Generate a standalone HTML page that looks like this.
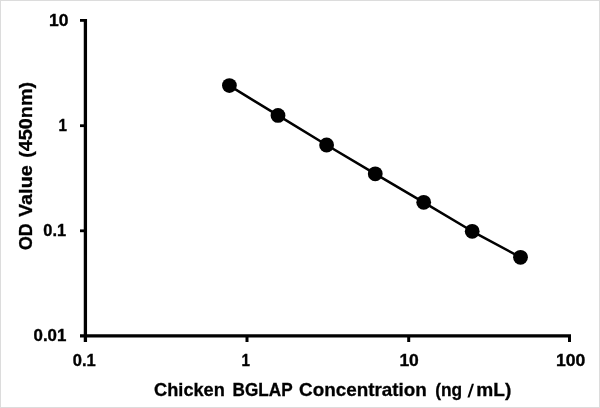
<!DOCTYPE html>
<html>
<head>
<meta charset="utf-8">
<title>Chicken BGLAP ELISA standard curve</title>
<style>
  html, body { margin: 0; padding: 0; background: #ffffff; }
  body { width: 600px; height: 408px; overflow: hidden; font-family: "Liberation Sans", sans-serif; }
  svg { display: block; will-change: transform; opacity: 0.999; }
  text { font-family: "Liberation Sans", sans-serif; font-weight: bold; fill: #000; }
</style>
</head>
<body>
<svg width="600" height="408" viewBox="0 0 600 408">
  <rect x="0" y="0" width="600" height="408" fill="#ffffff"/>
  <!-- outer light border -->
  <rect x="0.5" y="0.5" width="599" height="407" fill="none" stroke="#dcdcdc" stroke-width="1"/>

  <!-- axes -->
  <g stroke="#000" stroke-width="3" fill="none" stroke-linecap="butt">
    <line x1="85.4" y1="19" x2="85.4" y2="342" stroke-width="3.3"/>
    <line x1="80" y1="335.85" x2="571" y2="335.85" stroke-width="3.3"/>
    <line x1="80" y1="20.4" x2="85.4" y2="20.4" stroke-width="2.8"/>
    <line x1="80" y1="125.7" x2="85.4" y2="125.7" stroke-width="2.8"/>
    <line x1="80" y1="230.8" x2="85.4" y2="230.8" stroke-width="2.8"/>
    <line x1="247" y1="336" x2="247" y2="342"/>
    <line x1="408.7" y1="336" x2="408.7" y2="342"/>
    <line x1="569.5" y1="336" x2="569.5" y2="342"/>
  </g>

  <!-- data series -->
  <polyline fill="none" stroke="#000" stroke-width="2.5" stroke-linejoin="round" points="229.4,85.6 278,115.4 326.6,145 375.25,173.8 423.7,202.3 472.2,231.3 520.5,257.3"/>
  <g fill="#000">
    <circle cx="229.4" cy="85.6" r="7.4"/>
    <circle cx="278" cy="115.4" r="7.4"/>
    <circle cx="326.6" cy="145" r="7.4"/>
    <circle cx="375.25" cy="173.8" r="7.4"/>
    <circle cx="423.7" cy="202.3" r="7.4"/>
    <circle cx="472.2" cy="231.3" r="7.4"/>
    <circle cx="520.5" cy="257.3" r="7.4"/>
  </g>

  <!-- tick labels -->
  <text transform="translate(49.11,25.90) scale(1.0588,1.0000)" font-size="16.5" stroke="#000" stroke-width="0.35">10</text>
  <text transform="translate(58.52,130.90) scale(0.9200,0.9957)" font-size="16.5" stroke="#000" stroke-width="0.35">1</text>
  <text transform="translate(43.30,236.21) scale(0.9933,0.9750)" font-size="16.5" stroke="#000" stroke-width="0.35">0.1</text>
  <text transform="translate(33.49,341.31) scale(1.0240,0.9667)" font-size="16.5" stroke="#000" stroke-width="0.35">0.01</text>
  <text transform="translate(72.80,365.61) scale(1.0022,0.9750)" font-size="16.5" stroke="#000" stroke-width="0.35">0.1</text>
  <text transform="translate(241.51,365.60) scale(0.9200,0.9957)" font-size="16.5" stroke="#000" stroke-width="0.35">1</text>
  <text transform="translate(399.41,365.61) scale(1.0588,0.9750)" font-size="16.5" stroke="#000" stroke-width="0.35">10</text>
  <text transform="translate(555.90,365.71) scale(1.0667,0.9750)" font-size="16.5" stroke="#000" stroke-width="0.35">100</text>

  <!-- axis titles (word-by-word placement) -->
  <text transform="translate(154.10,395.6) scale(0.9942,1)" font-size="18.3" stroke="#000" stroke-width="0.3">Chicken</text>
  <text transform="translate(232.56,395.6) scale(0.9392,1)" font-size="18.3" stroke="#000" stroke-width="0.3">BGLAP</text>
  <text transform="translate(299.08,395.6) scale(1.0302,1)" font-size="18.3" stroke="#000" stroke-width="0.3">Concentration</text>
  <text transform="translate(435.19,395.6) scale(0.9472,1)" font-size="18.3" stroke="#000" stroke-width="0.3">(ng</text>
  <text transform="translate(476.36,395.6) scale(1.0441,1)" font-size="18.3" stroke="#000" stroke-width="0.3">mL)</text>
  <text transform="translate(32.0,250.00) rotate(-90) scale(1.0099,1)" font-size="17.6" stroke="#000" stroke-width="0.3">OD</text>
  <text transform="translate(32.0,217.10) rotate(-90) scale(1.1297,1)" font-size="17.6" stroke="#000" stroke-width="0.3">Value</text>
  <text transform="translate(32.0,157.74) rotate(-90) scale(1.1258,1)" font-size="17.6" stroke="#000" stroke-width="0.3">(450nm)</text>
  <text transform="translate(467.3,396.5) skewX(-8) scale(1,1.01)" font-size="18.3">/</text>
</svg>
</body>
</html>
